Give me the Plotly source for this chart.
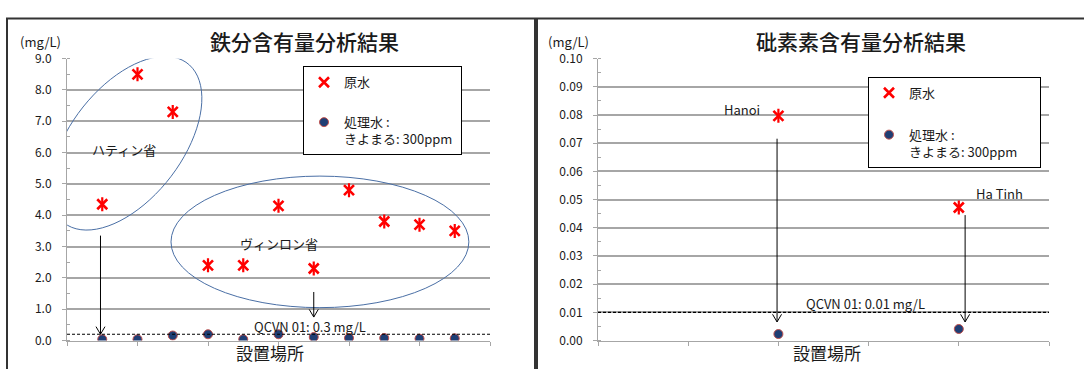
import numpy as np
import plotly.graph_objects as go

# ---------------- data ----------------
fe_sites = [1, 2, 3, 4, 5, 6, 7, 8, 9, 10, 11]
fe_raw = [4.35, 8.5, 7.3, 2.4, 2.4, 4.3, 2.3, 4.8, 3.8, 3.7, 3.5]
fe_treated = [0.04, 0.04, 0.16, 0.2, 0.04, 0.2, 0.11, 0.08, 0.08, 0.06, 0.07]
fe_limit = 0.2
fe_limit_label = "QCVN 01: 0.3 mg/L"

as_sites = [2, 4]
as_names = ["Hanoi", "Ha Tinh"]
as_raw = [0.0797, 0.0472]
as_treated = [0.0023, 0.0041]
as_limit = 0.01
as_limit_label = "QCVN 01: 0.01 mg/L"

fe_ticks = [0, 1, 2, 3, 4, 5, 6, 7, 8, 9]
as_ticks = [0.00, 0.01, 0.02, 0.03, 0.04, 0.05, 0.06, 0.07, 0.08, 0.09, 0.10]

raw_name = "原水"
treated_name = "処理水 :<br>きよまる: 300ppm"
title_fe = "鉄分含有量分析結果"
title_as = "砒素素含有量分析結果"
unit = "(mg/L)"
xlabel = "設置場所"

# ---------------- layout constants ----------------
W, H = 1084, 369
FONT = "Noto Sans CJK JP"
RED = "#FF0000"
NAVY = "#1F3E74"
GRID = "#a6a6a6"
TXT = "#1a1a1a"


def px(x):
    return x / W


def py(y):
    return 1 - y / H


X1 = (67, 490)
X2 = (598, 1049)
YB, YT = 346.5, 51
xd1 = [px(X1[0]), px(X1[1])]
xd2 = [px(X2[0]), px(X2[1])]
yd = [py(YB), py(YT)]
fe_xr, fe_yr = (0, 12), (0, 9)
as_xr, as_yr = (0, 5), (0, 0.1)

# pixel per data unit for each subplot
sc1 = ((X1[1] - X1[0]) / (fe_xr[1] - fe_xr[0]), (YB - YT) / (fe_yr[1] - fe_yr[0]))
sc2 = ((X2[1] - X2[0]) / (as_xr[1] - as_xr[0]), (YB - YT) / (as_yr[1] - as_yr[0]))

fig = go.Figure()


def add_series(xa, ya, xs, raw, treated, legend, pad):
    fig.add_trace(go.Scatter(
        x=xs, y=raw, mode="markers", name=raw_name, xaxis=xa, yaxis=ya,
        legend=legend, legendgroup="raw" + legend, showlegend=True,
        marker=dict(symbol="x-thin-open", size=10, line=dict(color=RED, width=2.6), color=RED),
        hoverinfo="skip"))
    fig.add_trace(go.Scatter(
        x=xs, y=raw, mode="markers", xaxis=xa, yaxis=ya, legend=legend,
        legendgroup="raw" + legend, showlegend=False,
        marker=dict(symbol="line-ns-open", size=10, line=dict(color=RED, width=2.2), color=RED),
        hoverinfo="skip"))
    fig.add_trace(go.Scatter(
        x=xs, y=treated, mode="markers", name=treated_name + "&nbsp;" * pad, xaxis=xa, yaxis=ya,
        legend=legend, legendgroup="tr" + legend, showlegend=True,
        marker=dict(symbol="circle", size=9, color=NAVY, line=dict(color="#C0504D", width=1)),
        hoverinfo="skip"))


add_series("x", "y", fe_sites, fe_raw, fe_treated, "legend", 1)
add_series("x2", "y2", as_sites, as_raw, as_treated, "legend2", 6)

axis_common = dict(showline=True, linecolor=GRID, linewidth=1, zeroline=False, ticks="outside",
                   ticklen=4, tickcolor=GRID, tickfont=dict(family=FONT, size=12, color=TXT))

fig.update_layout(
    width=W, height=H, margin=dict(l=0, r=0, t=0, b=0),
    paper_bgcolor="white", plot_bgcolor="white",
    font=dict(family=FONT, color=TXT),
    xaxis=dict(domain=xd1, range=list(fe_xr), tickvals=list(range(0, 13, 2)), showticklabels=False,
               showgrid=False, anchor="y", **axis_common),
    yaxis=dict(domain=yd, range=list(fe_yr), tickvals=fe_ticks, tickformat=".1f", showgrid=True,
               gridcolor=GRID, gridwidth=1.5, anchor="x", ticklabelstandoff=8,
               minor=dict(dtick=0.5, ticks="inside", ticklen=3, tickcolor=GRID, showgrid=False),
               **axis_common),
    xaxis2=dict(domain=xd2, range=list(as_xr), tickvals=list(range(0, 6)), showticklabels=False,
                showgrid=False, anchor="y2", **axis_common),
    yaxis2=dict(domain=yd, range=list(as_yr), tickvals=as_ticks, tickformat=".2f", showgrid=True,
                gridcolor=GRID, gridwidth=1.5, anchor="x2", ticklabelstandoff=8,
                minor=dict(dtick=0.005, ticks="inside", ticklen=3, tickcolor=GRID, showgrid=False),
                **axis_common),
    legend=dict(x=px(303), y=py(59), xanchor="left", yanchor="top", bgcolor="white",
                bordercolor="#000", borderwidth=1, font=dict(family=FONT, size=13, color=TXT),
                tracegroupgap=20, traceorder="grouped", valign="top"),
    legend2=dict(x=px(868), y=py(70), xanchor="left", yanchor="top", bgcolor="white",
                 bordercolor="#000", borderwidth=1, font=dict(family=FONT, size=13, color=TXT),
                 tracegroupgap=22, traceorder="grouped", valign="top"),
)

shapes = []
# chart frames
shapes.append(dict(type="rect", xref="paper", yref="paper", x0=px(7), x1=px(535), y0=-0.1, y1=py(9),
                   line=dict(color="#333", width=2), layer="above"))
shapes.append(dict(type="rect", xref="paper", yref="paper", x0=px(537), x1=1.05, y0=-0.1, y1=py(9),
                   line=dict(color="#333", width=2), layer="above"))
# limit lines
shapes.append(dict(type="line", xref="x", yref="y", x0=0, x1=12.15, y0=fe_limit, y1=fe_limit,
                   line=dict(color="black", width=1.2, dash="3px,2px")))
shapes.append(dict(type="line", xref="x2", yref="y2", x0=0, x1=5.03, y0=as_limit, y1=as_limit,
                   line=dict(color="black", width=1.2, dash="3px,2px")))


def rotated_ellipse(cx, cy, a_px, b_px, ang_deg, sc, n=80):
    t = np.linspace(0, 2 * np.pi, n)
    th = np.deg2rad(ang_deg)
    ex = a_px * np.cos(t) * np.cos(th) - b_px * np.sin(t) * np.sin(th)
    ey = a_px * np.cos(t) * np.sin(th) + b_px * np.sin(t) * np.cos(th)
    xs = cx + ex / sc[0]
    ys = cy + ey / sc[1]
    return "M " + " L ".join(f"{a:.4f},{b:.4f}" for a, b in zip(xs, ys)) + " Z"


shapes.append(dict(type="path", xref="x", yref="y",
                   path=rotated_ellipse(1.67, 6.3, 104, 57, 54.7, sc1),
                   line=dict(color="#4A6FA5", width=1)))
shapes.append(dict(type="circle", xref="x", yref="y", x0=2.95, x1=11.4, y0=1.05, y1=5.25,
                   line=dict(color="#4A6FA5", width=1)))


def arrow(xref, yref, sc, x, y0, y1, hw=4.5, hl=8):
    # vertical shaft + open V head (head size given in pixels)
    shapes.append(dict(type="line", xref=xref, yref=yref, x0=x, x1=x, y0=y0, y1=y1,
                       line=dict(color="black", width=1)))
    dx, dy = hw / sc[0], hl / sc[1]
    shapes.append(dict(type="path", xref=xref, yref=yref,
                       path=f"M {x - dx},{y1 + dy} L {x},{y1} L {x + dx},{y1 + dy}",
                       line=dict(color="black", width=1)))


arrow("x", "y", sc1, 0.95, 3.35, 0.2)
arrow("x", "y", sc1, 7.0, 1.55, 0.75)
arrow("x2", "y2", sc2, as_sites[0] - 0.015, 0.0716, 0.0066)
arrow("x2", "y2", sc2, as_sites[1] + 0.07, 0.0445, 0.0066)

fig.update_layout(shapes=shapes)

ann = []


def txt(x, y, s, size, xref="paper", yref="paper", xanchor="center", weight=400):
    ann.append(dict(x=x, y=y, xref=xref, yref=yref, text=s, showarrow=False, xanchor=xanchor,
                    yanchor="middle", font=dict(family=FONT, size=size, color=TXT, weight=weight)))


txt(px(304), py(32), title_fe, 21, weight=500)
txt(px(861), py(32), title_as, 21, weight=500)
txt(px(40), py(33), unit, 13)
txt(px(568), py(33), unit, 13)
txt(px(270), py(359), xlabel, 17)
txt(px(827), py(359), xlabel, 17)

txt(1.62, 6.1, "ハティン省", 13, "x", "y")
txt(6.0, 3.1, "ヴィンロン省", 13, "x", "y")
txt(6.9, 0.45, fe_limit_label, 13, "x", "y")

txt(1.6, 0.082, as_names[0], 13, "x2", "y2")
txt(4.45, 0.052, as_names[1], 13, "x2", "y2")
txt(2.97, 0.0131, as_limit_label, 13, "x2", "y2")

fig.update_layout(annotations=ann)

fig.write_html("out.html", config={"displayModeBar": False},
               post_script="document.body.style.margin='0';")
